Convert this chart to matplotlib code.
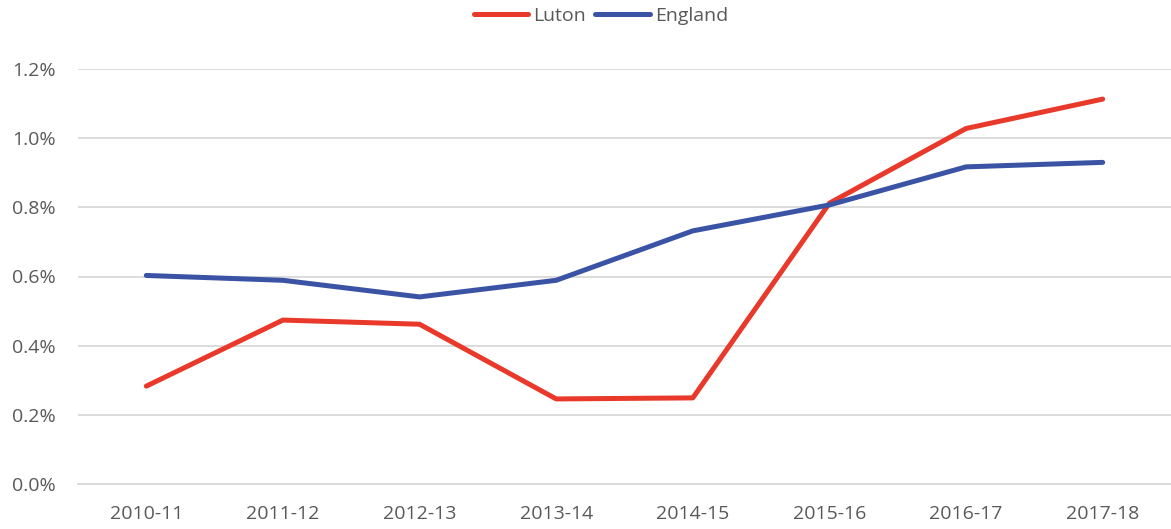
import matplotlib
matplotlib.use('Agg')
import matplotlib.pyplot as plt
from matplotlib.ticker import FuncFormatter

# Данные графика (доля, %)
years = ['2010-11', '2011-12', '2012-13', '2013-14', '2014-15', '2015-16', '2016-17', '2017-18']
luton = [0.283, 0.474, 0.462, 0.246, 0.249, 0.812, 1.028, 1.113]
england = [0.603, 0.589, 0.541, 0.589, 0.732, 0.807, 0.917, 0.930]

plt.rcParams['font.family'] = ['Open Sans', 'DejaVu Sans']

fig = plt.figure(figsize=(11.71, 5.29), dpi=100)
ax = fig.add_axes([78 / 1171, 1 - 484 / 529, 1 - 78 / 1171, (484 - 69) / 529])

x = range(len(years))
ax.plot(x, luton, color='#E8392B', linewidth=3.6, label='Luton', solid_capstyle='round')
ax.plot(x, england, color='#3A53A4', linewidth=3.6, label='England', solid_capstyle='round')

ax.set_xlim(-0.5, len(years) - 0.5)
ax.set_ylim(0, 1.2)
ax.set_yticks([0, 0.2, 0.4, 0.6, 0.8, 1.0, 1.2])
ax.yaxis.set_major_formatter(FuncFormatter(lambda v, p: f'{v:.1f}%'))
ax.set_xticks(list(x))
ax.set_xticklabels(years)

# Сетка и оси в стиле Excel
ax.grid(axis='y', color='#D9D9D9', linewidth=1.3)
ax.set_axisbelow(True)
for side in ['top', 'right', 'left']:
    ax.spines[side].set_visible(False)
ax.spines['bottom'].set_color('#D9D9D9')
ax.spines['bottom'].set_linewidth(1.3)
ax.tick_params(axis='both', length=0, labelsize=14, colors='#595959')
ax.tick_params(axis='x', pad=15)
ax.tick_params(axis='y', pad=16)

leg = fig.legend(loc='upper center', bbox_to_anchor=(0.513, 1.02), ncol=2, frameon=False,
                 fontsize=14, handlelength=2.8, columnspacing=0.5, handletextpad=0.25)
for t in leg.get_texts():
    t.set_color('#595959')

fig.savefig('out.png', dpi=100)
